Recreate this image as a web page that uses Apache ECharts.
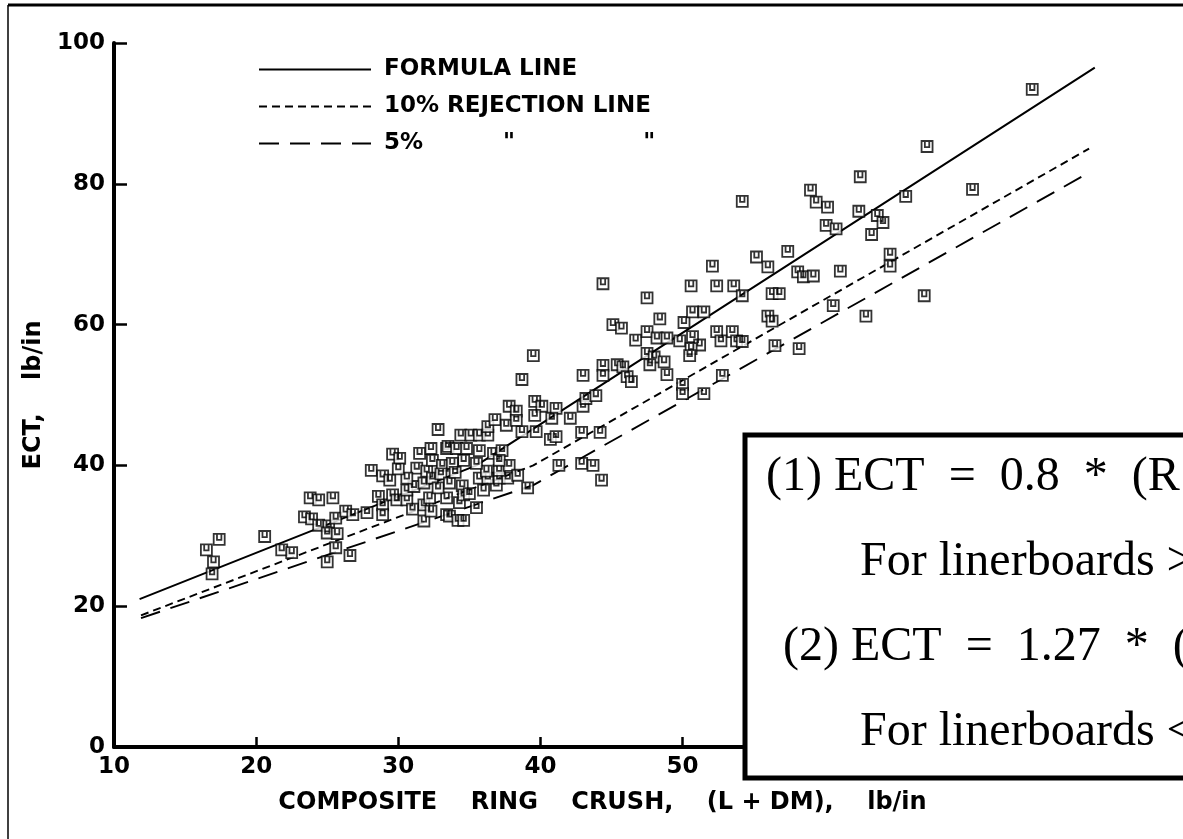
<!DOCTYPE html>
<html><head><meta charset="utf-8">
<script src="https://cdn.jsdelivr.net/npm/echarts@6/dist/echarts.min.js"></script>
<style>html,body{margin:0;padding:0;background:#fff}#c{width:1183px;height:839px}</style>
</head><body><div id="c"></div>
<script>
// Composite ring crush (x, lb/in) and ECT (y, lb/in)
const ringCrush = [16.5,17.0,16.9,17.4,20.6,21.8,22.5,25.0,25.6,26.6,
23.4,23.9,24.4,25.1,25.0,25.7,25.6,23.8,24.4,25.4,
26.3,26.8,28.1,28.9,29.4,28.6,28.9,28.9,29.6,30.1,
29.6,29.9,30.6,30.6,31.1,31.8,31.3,32.0,32.4,33.1,
31.5,32.3,33.4,32.8,31.8,31.8,32.2,33.4,30.6,32.4,
32.3,33.6,34.2,34.6,33.4,34.3,34.5,34.6,36.9,35.7,
36.3,37.1,37.7,36.2,37.1,37.8,38.4,35.5,34.6,33.8,
33.5,34.1,34.8,35.7,36.7,37.3,37.1,34.4,35.1,35.7,
36.3,36.3,36.8,37.6,38.7,39.7,40.7,41.1,42.9,44.2,
37.8,38.3,38.3,39.6,40.1,39.6,41.1,40.8,42.1,43.0,
43.2,43.9,39.5,38.7,43.0,44.4,44.4,45.4,45.8,46.1,
46.4,45.1,45.7,44.4,47.5,46.7,47.5,48.2,48.9,49.8,
50.7,51.2,50.6,50.5,47.5,48.0,47.7,48.7,48.9,48.4,
50.1,50.6,52.4,53.6,50.7,51.5,52.4,53.5,52.7,53.8,
54.2,50.0,50.0,51.5,52.8,54.2,52.1,55.2,56.0,57.4,
54.2,56.3,58.1,58.5,59.2,61.1,64.6,64.6,67.0,74.6,
67.2,62.5,70.4,59.0,59.4,60.2,65.7,62.4,63.7,64.1,
60.1,60.8,63.3,56.8,56.0,56.3,60.6,62.9,56.5,58.2,
41.3,42.9,43.7,44.3,39.1,32.8,33.0,35.0,35.5,30.0,
33.6,34.0,36.0,31.0,27.8];
const ectValues = [28.0,26.3,24.6,29.5,29.9,28.0,27.6,26.3,28.3,27.2,
32.7,32.4,31.5,31.4,30.4,30.3,32.5,35.4,35.1,35.4,
33.5,33.0,39.3,38.5,37.9,35.6,34.4,33.0,41.6,41.0,
35.8,35.1,35.1,36.5,37.0,37.5,39.6,39.2,40.7,40.0,
41.7,42.4,42.4,45.1,32.1,34.4,35.4,33.0,38.2,38.2,
33.5,32.8,32.2,32.2,35.4,34.7,37.1,35.8,37.2,38.2,
38.2,38.2,38.2,39.2,39.3,40.0,38.6,40.3,40.7,40.3,
42.7,42.4,42.4,42.1,41.7,42.1,40.7,44.3,44.3,44.3,
44.3,45.5,46.5,45.7,44.8,44.8,43.7,44.1,44.7,44.7,
48.4,47.7,46.4,49.1,48.4,47.1,48.1,46.7,46.7,48.4,
49.5,49.9,55.6,52.2,52.8,54.2,52.8,54.3,54.0,52.6,
51.9,60.0,59.5,65.8,63.8,57.8,59.0,58.1,58.1,57.7,
58.3,57.1,56.6,55.6,55.9,55.4,54.3,54.7,52.9,60.8,
60.3,65.5,65.5,65.5,61.8,61.8,59.0,59.0,57.7,57.7,
57.6,51.5,50.2,50.2,52.8,77.5,68.3,69.6,68.2,70.4,
64.1,64.4,67.5,66.8,66.9,67.6,70.0,68.3,64.1,93.4,
85.3,81.0,79.2,79.1,77.4,76.7,78.2,76.1,75.5,74.5,
74.1,73.6,72.8,64.4,61.2,60.5,62.7,61.2,57.0,56.6,
40.0,40.3,40.0,37.9,36.8,36.8,38.8,36.0,34.0,39.5,
37.5,39.0,36.5,33.8,33.3];

// Reference lines (vertices)
const formulaX = [11.8, 35.5, 79.0];
const formulaY = [21.0, 40.0, 96.5];
const rej10X = [11.9, 39.5, 78.6];
const rej10Y = [18.7, 40.0, 85.0];
const rej5X = [11.9, 39.5, 78.6];
const rej5Y = [18.3, 37.2, 81.6];

const seriesNames = ['FORMULA LINE', '10% REJECTION LINE', '5%          "                "'];
const xTickLabels = [10, 20, 30, 40, 50, 60, 70, 80];
const yTickLabels = [0, 20, 40, 60, 80, 100];
const xAxisTitle = 'COMPOSITE    RING    CRUSH,    (L + DM),    lb/in';
const yAxisTitle = 'ECT,    lb/in';
const boxLines = ['(1) ECT  =  0.8  *  (R', 'For linerboards >', '(2) ECT  =  1.27  *  (', 'For linerboards <'];

const zip = (xs, ys) => xs.map((x, i) => [x, ys[i]]);
const sans = 'DejaVu Sans';
const marker = 'path://M0,0H10V10H0Z M3,0V5.5H7V0';

const chart = echarts.init(document.getElementById('c'), null, {renderer: 'canvas'});
const boxX = [766, 860, 783, 860];
const boxY = [477, 562, 647, 732];

chart.setOption({
  animation: false,
  backgroundColor: '#fff',
  grid: {left: 114, right: 74, top: 43, bottom: 92, containLabel: false},
  legend: {
    data: seriesNames, orient: 'vertical', left: 258, top: 58, padding: 0,
    itemWidth: 112, itemHeight: 14, itemGap: 14, selectedMode: false,
    itemStyle: {opacity: 0},
    textStyle: {fontFamily: sans, fontWeight: 'bold', fontSize: 23, color: '#000', lineHeight: 22, padding: [0, 0, 0, 8]}
  },
  xAxis: {
    type: 'value', min: xTickLabels[0], max: xTickLabels[xTickLabels.length - 1], interval: 10,
    name: xAxisTitle, nameLocation: 'middle', nameGap: 44,
    nameTextStyle: {fontFamily: sans, fontWeight: 'bold', fontSize: 24, color: '#000', padding: [0, 18, 0, 0]},
    axisLine: {lineStyle: {color: '#000', width: 4}},
    axisTick: {inside: true, length: 10, lineStyle: {color: '#000', width: 2.5}},
    axisLabel: {fontFamily: sans, fontWeight: 'bold', fontSize: 23, color: '#000', margin: 9},
    splitLine: {show: false}
  },
  yAxis: {
    type: 'value', min: yTickLabels[0], max: yTickLabels[yTickLabels.length - 1], interval: 20,
    name: yAxisTitle, nameLocation: 'middle', nameGap: 57,
    nameTextStyle: {fontFamily: sans, fontWeight: 'bold', fontSize: 24, color: '#000'},
    axisLine: {lineStyle: {color: '#000', width: 4}},
    axisTick: {inside: true, length: 13, lineStyle: {color: '#000', width: 2.5}},
    axisLabel: {fontFamily: sans, fontWeight: 'bold', fontSize: 23, color: '#000', margin: 9},
    splitLine: {show: false}
  },
  series: [
    {name: seriesNames[0], type: 'line', data: zip(formulaX, formulaY), symbol: 'none', z: 3,
     itemStyle: {color: '#000'}, lineStyle: {color: '#000', width: 2, type: 'solid'}},
    {name: seriesNames[1], type: 'line', data: zip(rej10X, rej10Y), symbol: 'none', z: 3,
     itemStyle: {color: '#000'}, lineStyle: {color: '#000', width: 1.9, type: [8, 5]}},
    {name: seriesNames[2], type: 'line', data: zip(rej5X, rej5Y), symbol: 'none', z: 3,
     itemStyle: {color: '#000'}, lineStyle: {color: '#000', width: 1.9, type: [20, 11]}},
    {name: 'data', type: 'scatter', data: zip(ringCrush, ectValues), symbol: marker, symbolSize: 11, z: 4,
     itemStyle: {color: '#fff', borderColor: '#000', borderWidth: 1.8}}
  ],
  graphic: [
    {type: 'line', shape: {x1: 8, y1: 5, x2: 1183, y2: 5}, style: {stroke: '#000', lineWidth: 3}, z: 200},
    {type: 'line', shape: {x1: 8, y1: 5, x2: 8, y2: 839}, style: {stroke: '#000', lineWidth: 1.5}, z: 200},
    {type: 'rect', shape: {x: 745, y: 435, width: 500, height: 343}, style: {fill: '#fff', stroke: '#000', lineWidth: 5}, z: 100}
  ].concat(boxLines.map((t, i) => ({
    type: 'text', x: boxX[i], y: boxY[i], z: 101,
    style: {text: t, fontFamily: 'Liberation Serif', fontSize: 48, fill: '#000', verticalAlign: 'middle', align: 'left'}
  })))
});
</script>
</body></html>
